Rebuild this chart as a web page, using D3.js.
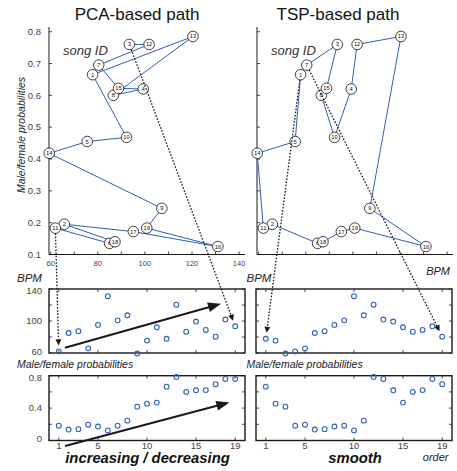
<!DOCTYPE html>
<html><head><meta charset="utf-8">
<script src="https://cdn.jsdelivr.net/npm/d3@7"></script>
<style>body{margin:0;background:#fff} svg{display:block;font-family:"Liberation Sans",Arial,sans-serif}</style>
</head><body><svg id="c" width="457" height="471"></svg>
<script>
// ---- data ----
const songIds  = [1,2,3,4,5,6,7,8,9,10,11,12,13,14,15,16,17,18,19];
const songBPM  = [77.8,65.8,93.4,99.3,75.5,85.0,80.4,86.6,107.2,92.2,62.0,101.8,120.4,59.4,88.8,131.0,95.1,87.3,100.8];
const songProb = [0.665,0.195,0.76,0.62,0.455,0.135,0.695,0.60,0.245,0.468,0.183,0.76,0.785,0.418,0.622,0.125,0.172,0.14,0.183];
const pcaOrder = [11,6,18,2,17,16,19,9,14,5,10,1,13,8,4,15,7,12,3];
const tspOrder = [1,5,14,11,2,6,18,17,19,16,9,13,12,4,10,8,15,3,7];
const bpmTicks = [60,70,80,90,100,110,120,130,140];
const bpmTickLabels = [60,80,100,120,140];
const probTicks = [0.1,0.2,0.3,0.4,0.5,0.6,0.7,0.8];
const midBpmTicks = [60,80,100,120,140];
const midBpmLabels = [60,100,140];
const lowProbTicks = [0,0.2,0.4,0.6,0.8];
const lowProbLabels = [0,0.4,0.8];
const orderTicks = [1,5,10,15,19];
// trend arrows: [order, value] start -> end
const pcaBpmTrend  = [[1.63,66.6],[17.55,121.6]];
const pcaProbTrend = [[1.63,-0.067],[18.4,0.47]];

const blue = '#2f5fb8', ink = '#1a1a1a', grey = '#444';
const svg = d3.select('#c');
const song = id => ({bpm: songBPM[id-1], prob: songProb[id-1]});

const yTop = d3.scaleLinear().domain([0.1,0.8]).range([254.5,31.7]);
const yMid = d3.scaleLinear().domain([60,140]).range([353,289]);
const yLow = d3.scaleLinear().domain([0,0.8]).range([440.5,375.7]);

const panels = [
  {title:'PCA-based path', order:pcaOrder, x0:49, x1:245, bx0:49, bx1:245, labels:true, tx:137, lx:17,
   trends:true, arrows:[[11,0],[3,18]]},
  {title:'TSP-based path', order:tspOrder, x0:257, x1:453, bx0:256, bx1:452, labels:false, tx:338, lx:246.5,
   trends:false, arrows:[[1,0],[7,18]]}
];

function arrowHead(g, x1,y1,x2,y2,len,hw){
  const dx=x2-x1, dy=y2-y1, L=Math.hypot(dx,dy), ux=dx/L, uy=dy/L;
  const bx=x2-ux*len, by=y2-uy*len;
  g.append('path').attr('d',`M${x2},${y2}L${bx-uy*hw},${by+ux*hw}L${bx+uy*hw},${by-ux*hw}Z`).attr('fill',ink);
}

panels.forEach(p=>{
  const x = d3.scaleLinear().domain([59.3,142.5]).range([p.x0,p.x1]);
  const g = svg.append('g');
  g.append('text').attr('x',p.tx).attr('y',20).attr('text-anchor','middle').attr('font-size',17).attr('fill','#111').text(p.title);
  g.append('line').attr('x1',p.x0).attr('x2',p.x0).attr('y1',27).attr('y2',yTop(0.1)).attr('stroke',ink).attr('stroke-width',1);
  g.append('line').attr('x1',p.x0).attr('x2',p.x1).attr('y1',yTop(0.1)).attr('y2',yTop(0.1)).attr('stroke',ink).attr('stroke-width',1);
  bpmTicks.forEach(t=>g.append('line').attr('x1',x(t)).attr('x2',x(t)).attr('y1',yTop(0.1)).attr('y2',yTop(0.1)-3).attr('stroke',ink).attr('stroke-width',0.8));
  probTicks.forEach(t=>g.append('line').attr('x1',p.x0).attr('x2',p.x0+3).attr('y1',yTop(t)).attr('y2',yTop(t)).attr('stroke',ink).attr('stroke-width',0.8));
  if(p.labels){
    bpmTickLabels.forEach(t=>g.append('text').attr('x',x(t)).attr('y',265.5).attr('text-anchor','middle').attr('font-size',7.5).attr('fill',grey).text(t));
    probTicks.forEach(t=>g.append('text').attr('x',41).attr('y',yTop(t)+3.3).attr('text-anchor','end').attr('font-size',9.5).attr('fill',grey).text(d3.format('.1f')(t)));
    g.append('text').attr('transform','translate(24.5,135) rotate(-90)').attr('text-anchor','middle').attr('font-size',10.5).attr('font-style','italic').attr('fill','#222').text('Male/female probabilities');
  } else {
    g.append('text').attr('x',450).attr('y',275).attr('text-anchor','end').attr('font-size',11).attr('font-style','italic').attr('fill','#222').text('BPM');
  }
  g.append('text').attr('x',p.x0+14).attr('y',55).attr('font-size',13).attr('font-style','italic').attr('fill','#333').text('song ID');
  const line = d3.line().x(id=>x(song(id).bpm)).y(id=>yTop(song(id).prob));
  g.append('path').attr('d',line(p.order)).attr('fill','none').attr('stroke',blue).attr('stroke-width',1);
  songIds.forEach(id=>{
    const s=song(id);
    g.append('circle').attr('cx',x(s.bpm)).attr('cy',yTop(s.prob)).attr('r',5.3).attr('fill','#fff').attr('stroke','#111').attr('stroke-width',0.8);
    g.append('text').attr('x',x(s.bpm)).attr('y',yTop(s.prob)+2).attr('text-anchor','middle').attr('font-size',5.8).attr('fill','#111').text(id);
  });

  const xo = d3.scaleLinear().domain([0,20]).range([p.bx0,p.bx1]);
  [[yMid,'bpm',midBpmTicks,midBpmLabels,'BPM',d=>d],[yLow,'prob',lowProbTicks,lowProbLabels,'Male/female probabilities',d3.format('.1~f')]].forEach(([ys,key,ticks,labs,name,fmt])=>{
    const gg = svg.append('g');
    const [ybot,ytop]=ys.range();
    ticks.forEach(t=>{
      gg.append('line').attr('x1',p.bx0).attr('x2',p.bx0+3).attr('y1',ys(t)).attr('y2',ys(t)).attr('stroke',ink).attr('stroke-width',0.8);
      gg.append('line').attr('x1',p.bx1).attr('x2',p.bx1-3).attr('y1',ys(t)).attr('y2',ys(t)).attr('stroke',ink).attr('stroke-width',0.8);
    });
    orderTicks.forEach(t=>{
      gg.append('line').attr('x1',xo(t)).attr('x2',xo(t)).attr('y1',ybot).attr('y2',ybot-3).attr('stroke',ink).attr('stroke-width',0.8);
      gg.append('line').attr('x1',xo(t)).attr('x2',xo(t)).attr('y1',ytop).attr('y2',ytop+3).attr('stroke',ink).attr('stroke-width',0.8);
    });
    gg.append('rect').attr('x',p.bx0).attr('y',ytop).attr('width',p.bx1-p.bx0).attr('height',ybot-ytop).attr('fill','none').attr('stroke',ink).attr('stroke-width',1.4);
    gg.append('text').attr('x',p.lx).attr('y',key==='bpm'?ytop-7:ytop-7.5).attr('font-size',key==='bpm'?11.5:10.5).attr('font-style','italic').attr('fill','#222').text(name);
    if(p.labels) labs.forEach((t,k)=>{
      const nudge = k===0 ? -1.5 : (k===labs.length-1 ? 2 : 0);
      gg.append('text').attr('x',42).attr('y',ys(t)+3.3+nudge).attr('text-anchor','end').attr('font-size',9.5).attr('fill',grey).text(fmt(t));
    });
    p.order.forEach((id,i)=>{
      gg.append('circle').attr('cx',xo(i+1)).attr('cy',ys(song(id)[key])).attr('r',2.4).attr('fill','none').attr('stroke',blue).attr('stroke-width',1.1);
    });
    if(key==='prob') orderTicks.forEach(t=>gg.append('text').attr('x',xo(t)).attr('y',449).attr('text-anchor','middle').attr('font-size',9.5).attr('fill',grey).text(t));
    if(p.trends){
      const tr = key==='bpm'?pcaBpmTrend:pcaProbTrend;
      const [a,b]=tr; const X1=xo(a[0]),Y1=ys(a[1]),X2=xo(b[0]),Y2=ys(b[1]);
      const L=Math.hypot(X2-X1,Y2-Y1);
      gg.append('line').attr('x1',X1).attr('y1',Y1).attr('x2',X2-(X2-X1)/L*10).attr('y2',Y2-(Y2-Y1)/L*10).attr('stroke',ink).attr('stroke-width',2);
      arrowHead(gg,X1,Y1,X2,Y2,13,5);
    }
  });
  p.arrows.forEach(([id,i])=>{
    const s=song(id);
    const X1=x(s.bpm),Y1=yTop(s.prob),X2=xo(i+1),Y2=yMid(song(p.order[i]).bpm);
    const L=Math.hypot(X2-X1,Y2-Y1),ux=(X2-X1)/L,uy=(Y2-Y1)/L;
    const ex=X2-ux*6, ey=Y2-uy*6;
    svg.append('line').attr('x1',X1+ux*5.3).attr('y1',Y1+uy*5.3).attr('x2',ex-ux*5).attr('y2',ey-uy*5).attr('stroke',ink).attr('stroke-width',1.3).attr('stroke-dasharray','1.6,1.6');
    arrowHead(svg,X1,Y1,ex,ey,6,3);
  });
});
svg.append('text').attr('x',147.5).attr('y',463).attr('text-anchor','middle').attr('font-size',14.8).attr('font-weight','bold').attr('font-style','italic').attr('fill','#111').text('increasing / decreasing');
svg.append('text').attr('x',355).attr('y',463).attr('text-anchor','middle').attr('font-size',14.8).attr('font-weight','bold').attr('font-style','italic').attr('fill','#111').text('smooth');
svg.append('text').attr('x',448.5).attr('y',460.5).attr('text-anchor','end').attr('font-size',11).attr('font-style','italic').attr('fill','#222').text('order');
</script></body></html>
